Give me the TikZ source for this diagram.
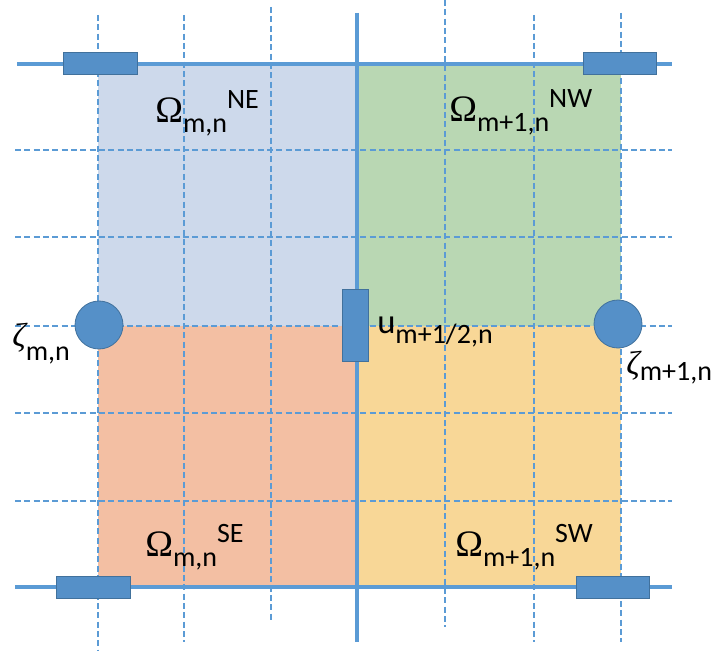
\documentclass[tikz,border=0pt]{standalone}
\usepackage{fontspec}
\newfontfamily\calib{Carlito}
\newfontfamily\grk{Liberation Serif}
\usepackage{tikz}
\usetikzlibrary{positioning}
\definecolor{lineblue}{HTML}{5B9BD5}
\definecolor{boxblue}{HTML}{5590C8}
\definecolor{boxedge}{HTML}{41719C}
\definecolor{qNE}{HTML}{CDD9EB}
\definecolor{qNW}{HTML}{B9D7B3}
\definecolor{qSE}{HTML}{F3BFA3}
\definecolor{qSW}{HTML}{F8D797}
\newcommand{\lowsub}[2][7.5pt]{\raisebox{-#1}{\calib\upshape\fontsize{21}{24}\selectfont #2}}
\newcommand{\highsup}[2][10.5pt]{\raisebox{#1}{\calib\upshape\fontsize{21}{24}\selectfont #2}}
\tikzset{
  gridline/.style={lineblue,line width=0.8pt,dash pattern=on 4.5pt off 2.5pt},
  mainline/.style={lineblue,line width=2.4pt},
  ubox/.style={draw=boxedge,fill=boxblue,line width=0.6pt,inner sep=0,minimum width=55pt,minimum height=17pt},
  zdot/.style={circle,draw=boxedge,fill=boxblue,line width=0.6pt,inner sep=0,minimum size=36pt},
  lbl/.style={inner sep=0,anchor=base west,font=\grk\fontsize{28}{30}\selectfont},
}
\begin{document}
\begin{tikzpicture}[x=0.75pt,y=-0.75pt]
        \useasboundingbox (0,0) rectangle (724,652);
        \fill[qNE] (98,64) rectangle (357,326); %NE
        \fill[qNW] (357,64) rectangle (621,326); %NW
        \fill[qSE] (98,326) rectangle (357,587); %SE
        \fill[qSW] (357,326) rectangle (621,587); %SW
        \foreach \y in {150,237,326,413,501} \draw[gridline] (15,\y)--(672,\y); %格子 横
        \foreach \x/\a/\b in {98/15/650,184/15/642,271/7/622,445/0/627,534/15/642,621/13/642}
            \draw[gridline] (\x,\a)--(\x,\b); %格子 縦
        \draw[mainline] (17,64)--(672,64);
        \draw[mainline] (15,587)--(672,587);
        \draw[mainline] (357,13)--(357,642);
        \node[ubox] (vNW) at (100.5,63.5) {};
        \node[ubox] (vNE) at (620,63.5) {};
        \node[ubox] (vSW) at (93.5,587.5) {};
        \node[ubox] (vSE) at (613,587.5) {};
        \node[ubox,minimum width=19pt,minimum height=54pt] (uC) at (355.5,325) {};
        \node[zdot] (zL) at (99,325) {};
        \node[zdot] (zR) at (618,324) {};
        \node[lbl] (omNE) at (155,123) {Ω\lowsub{m,n}\highsup{NE}};
        \node[lbl] (omNW) at (449,122) {Ω\lowsub{m+1,n}\highsup{NW}};
        \node[lbl] (omSE) at (145,556) {Ω\lowsub{m,n}\highsup{SE}};
        \node[lbl] (omSW) at (455,556) {Ω\lowsub{m+1,n}\highsup{SW}};
        \node[lbl,font=\calib\fontsize{26}{28}\selectfont] (uLbl) at (377,333) {u\lowsub[8pt]{m+1/2,n}};
        \node[lbl,font=\grk\itshape\fontsize{25}{28}\selectfont] (zLLbl) at (12,346) {ζ\lowsub[11pt]{m,n}};
        \node[lbl,font=\grk\itshape\fontsize{25}{28}\selectfont] (zRLbl) at (626,374) {ζ\lowsub[4.5pt]{m+1,n}};
\end{tikzpicture}
\end{document}
